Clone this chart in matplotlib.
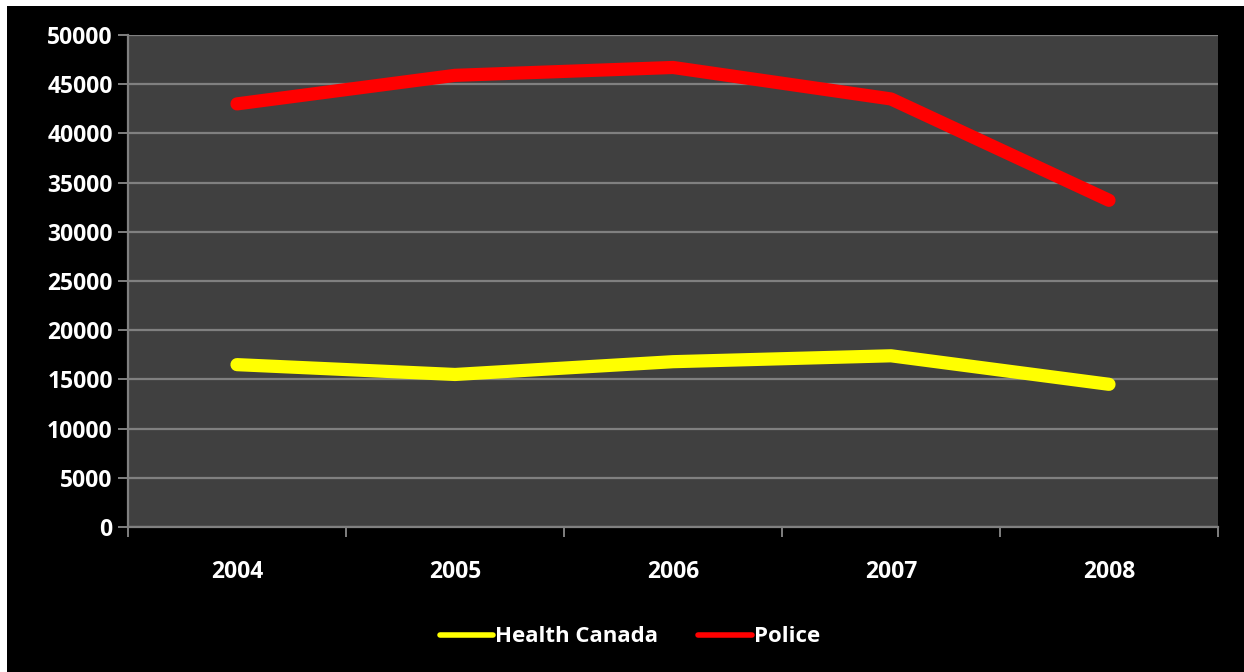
import matplotlib as mpl
import matplotlib.pyplot as plt
from matplotlib.patches import Rectangle
import numpy as np

# data
years = ['2004', '2005', '2006', '2007', '2008']
health_canada = [16500, 15500, 16800, 17400, 14500]
police = [43000, 45900, 46700, 43500, 33200]

plt.rcParams['font.family'] = ['Open Sans', 'DejaVu Sans']
plt.rcParams['font.weight'] = 'bold'

W, H = 1244, 672
fig = plt.figure(figsize=(W / 100, H / 100), dpi=100, facecolor='white')
# black canvas, leaving a thin white strip top and left like the original
fig.patches.append(Rectangle((7 / W, 0), 1, 1 - 6 / H, transform=fig.transFigure,
                             facecolor='black', edgecolor='none', zorder=-10))

ax = fig.add_axes((128 / W, 145 / H, (1218 - 128) / W, (527 - 35) / H))
ax.set_facecolor('#404040')

x = np.arange(len(years))
ax.plot(x, health_canada, color='#ffff00', lw=9.5, solid_capstyle='round',
        solid_joinstyle='round', label='Health Canada', zorder=3)
ax.plot(x, police, color='#ff0000', lw=9.5, solid_capstyle='round',
        solid_joinstyle='round', label='Police', zorder=3)

ax.set_xlim(-0.5, len(years) - 0.5)
ax.set_ylim(0, 50000)
ax.set_yticks(np.arange(0, 50001, 5000))
ax.yaxis.grid(True, color='#808080', lw=1.6)
ax.set_axisbelow(True)

# categories centred, tick marks on the boundaries
ax.set_xticks(np.arange(-0.5, len(years), 1.0))
ax.set_xticklabels([])
ax.set_xticks(x, minor=True)
ax.set_xticklabels(years, minor=True)
ax.tick_params(axis='x', which='minor', length=0, pad=24)
ax.tick_params(axis='x', which='major', length=7, width=1.4, color='#808080')
ax.tick_params(axis='y', length=7, width=1.4, color='#808080', pad=4)
ax.tick_params(axis='both', which='both', labelcolor='white', labelsize=16.5)

for side in ['top', 'right']:
    ax.spines[side].set_visible(False)
for side in ['left', 'bottom']:
    ax.spines[side].set_color('#808080')
    ax.spines[side].set_linewidth(1.6)

leg = fig.legend(loc='center', bbox_to_anchor=(630 / W, 35 / H), ncol=2,
                 frameon=False, fontsize=16, labelcolor='white',
                 handlelength=2.4, handletextpad=0.1, columnspacing=1.8)
for line in leg.get_lines():
    line.set_linewidth(4)

fig.savefig('out.png', dpi=100, facecolor=fig.get_facecolor())
